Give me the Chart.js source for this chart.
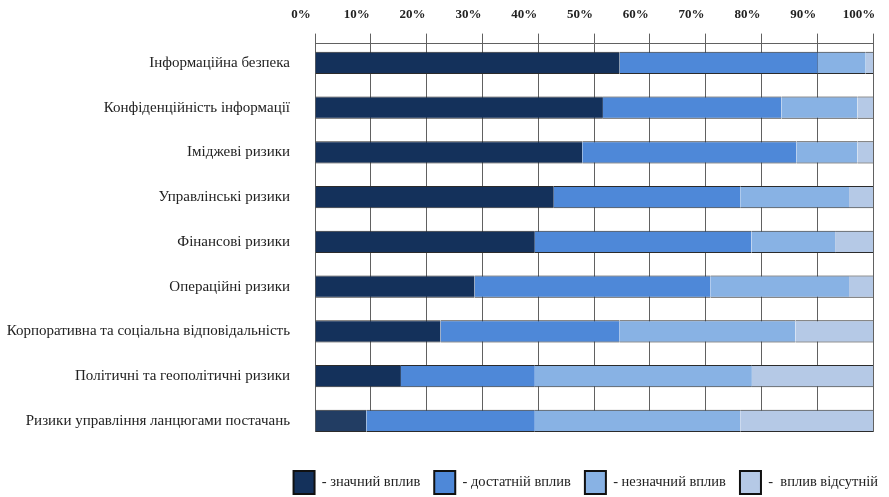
<!DOCTYPE html>
<html>
<head>
<meta charset="utf-8">
<script src="https://cdn.jsdelivr.net/npm/chart.js@4/dist/chart.umd.min.js"></script>
<style>
  html, body { margin: 0; padding: 0; background: #ffffff; }
  #wrap { width: 889px; height: 497px; position: relative; }
</style>
</head>
<body>
<div id="wrap"><canvas id="chart"></canvas></div>
<script>
// Risk categories, top to bottom
const categories = [
  'Інформаційна безпека',
  'Конфіденційність інформації',
  'Іміджеві ризики',
  'Управлінські ризики',
  'Фінансові ризики',
  'Операційні ризики',
  'Корпоративна та соціальна відповідальність',
  'Політичні та геополітичні ризики',
  'Ризики управління ланцюгами постачань'
];

// Share of respondents, %
const significant = [54.6, 51.6, 47.9, 42.8, 39.4, 28.6, 22.5, 15.4, 9.2];
const sufficient  = [35.5, 32.0, 38.4, 33.4, 38.8, 42.3, 32.1, 24.0, 30.2];
const minor       = [8.6, 13.6, 10.9, 19.5, 15.0, 24.8, 31.5, 38.9, 36.8];
const absent      = [1.3, 2.8, 2.8, 4.3, 6.8, 4.3, 13.9, 21.7, 23.8];

const seriesNames = ['- значний вплив', '- достатній вплив', '- незначний вплив', '-  вплив відсутній'];
const xTickValues = [0, 10, 20, 30, 40, 50, 60, 70, 80, 90, 100];

const palette = ['#14315b', '#4e88d8', '#88b2e4', '#b5c9e6'];
const seriesValues = [significant, sufficient, minor, absent];

const datasets = seriesValues.map((vals, s) => ({
  label: seriesNames[s],
  data: vals.map((v, i) => ({ x: v, y: i })),
  backgroundColor: s === 0
    ? vals.map((_, i) => (i === vals.length - 1 ? '#223d63' : palette[0]))
    : palette[s],
  borderColor: '#2b2b2b',
  borderWidth: { top: 1, bottom: 1, left: 0, right: 0 },
  borderSkipped: false,
  barPercentage: 0.5,
  categoryPercentage: 1
}));

// moves the legend row under the plot, right-aligned
const legendPlacement = {
  id: 'legendPlacement',
  afterLayout(chart) {
    const lg = chart.legend;
    if (!lg) return;
    lg.left += 19; lg.right += 19;
    lg.top += 25; lg.bottom += 25;
  }
};

new Chart(document.getElementById('chart'), {
  type: 'bar',
  data: { datasets },
  plugins: [legendPlacement],
  options: {
    indexAxis: 'y',
    responsive: true,
    maintainAspectRatio: false,
    animation: false,
    layout: { padding: { left: 5, right: 16, top: -4, bottom: 18 } },
    scales: {
      x: {
        type: 'linear',
        position: 'top',
        min: 0,
        max: 100,
        stacked: true,
        z: 1,
        afterBuildTicks(scale) {
          scale.ticks = xTickValues.map(v => ({ value: v }));
        },
        afterFit(scale) {
          scale.paddingLeft = 0;
          scale.paddingRight = 0;
        },
        grid: {
          color: 'rgba(0,0,0,0.62)',
          lineWidth: 1,
          tickLength: 10,
          drawTicks: true
        },
        border: { display: true, color: 'rgba(0,0,0,0.62)', width: 1 },
        ticks: {
          callback: v => v + '%',
          font: { family: 'Liberation Serif', weight: 'bold', size: 13 },
          color: '#222',
          padding: 11,
          labelOffset: -14,
          maxRotation: 0,
          autoSkip: false
        }
      },
      y: {
        type: 'linear',
        reverse: true,
        offset: false,
        min: -0.43,
        max: 8.25,
        stacked: true,
        afterBuildTicks(scale) {
          scale.ticks = categories.map((_, i) => ({ value: i }));
        },
        afterFit(scale) {
          scale.width = 310;
          scale.paddingTop = 0;
          scale.paddingBottom = 0;
        },
        grid: { display: false, drawTicks: false, offset: false },
        border: { display: false },
        ticks: {
          callback: v => categories[v],
          font: { family: 'Liberation Serif', size: 15 },
          color: '#222',
          padding: 25,
          autoSkip: false
        }
      }
    },
    plugins: {
      tooltip: { enabled: false },
      legend: {
        position: 'bottom',
        align: 'end',
        labels: {
          boxWidth: 21,
          boxHeight: 23,
          padding: 14,
          color: '#222',
          font: { family: 'Liberation Serif', size: 14.5 },
          generateLabels(chart) {
            return chart.data.datasets.map((ds, i) => ({
              text: ds.label,
              fillStyle: palette[i],
              strokeStyle: '#111',
              lineWidth: 2,
              hidden: false,
              datasetIndex: i,
              fontColor: '#222'
            }));
          }
        }
      }
    }
  }
});
</script>
</body>
</html>
